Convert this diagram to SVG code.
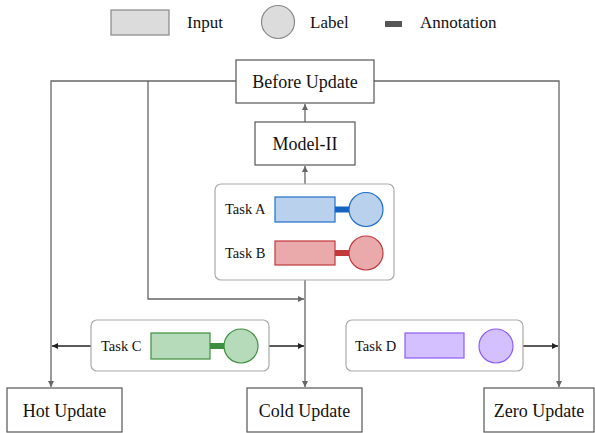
<svg xmlns="http://www.w3.org/2000/svg" width="595" height="433" viewBox="0 0 595 433">
<style>
text{font-family:"Liberation Serif","Times New Roman",serif;fill:#111}
.node rect{fill:#fff;stroke:#555;stroke-width:1.2}
.node text{font-size:18px;text-anchor:middle}
.panel{fill:#fff;stroke:#aaa;stroke-width:1.2}
.task{font-size:14.5px}
.leg{font-size:17px}
.g{fill:none;stroke:#666;stroke-width:1.3}
.k{fill:none;stroke:#222;stroke-width:1.3}
</style>
<defs>
<marker id="ag" markerWidth="8" markerHeight="8" refX="6" refY="3" orient="auto" markerUnits="userSpaceOnUse"><path d="M0,0 L6,3 L0,6 z" fill="#666"/></marker>
<marker id="ak" markerWidth="8" markerHeight="8" refX="6" refY="3" orient="auto" markerUnits="userSpaceOnUse"><path d="M0,0 L6,3 L0,6 z" fill="#222"/></marker>
</defs>
<g id="legend">
<rect x="111" y="10" width="58" height="25" fill="#dcdcdc" stroke="#888" stroke-width="1.2"/>
<text class="leg" x="187" y="28">Input</text>
<circle cx="278" cy="22" r="16.5" fill="#dcdcdc" stroke="#888" stroke-width="1.2"/>
<text class="leg" x="310" y="28">Label</text>
<rect x="385" y="21" width="17" height="6" fill="#555"/>
<text class="leg" x="420" y="28">Annotation</text>
</g>
<g id="connectors">
<path class="g" d="M305,122 V104" marker-end="url(#ag)"/>
<path class="g" d="M305,184 V166" marker-end="url(#ag)"/>
<path class="g" d="M236,81 H51 V387" marker-end="url(#ag)"/>
<path class="g" d="M148,81 V299 H304" marker-end="url(#ag)"/>
<path class="g" d="M374,81 H559 V387" marker-end="url(#ag)"/>
<path class="g" d="M305,280 V387" marker-end="url(#ag)"/>
<path class="k" d="M91,346 H52" marker-end="url(#ak)"/>
<path class="k" d="M269,346 H304" marker-end="url(#ak)"/>
<path class="k" d="M523,346 H558" marker-end="url(#ak)"/>
</g>
<g id="before-update" class="node"><rect x="236" y="60" width="138" height="43"/><text x="305" y="88">Before Update</text></g>
<g id="model-ii" class="node"><rect x="255" y="122" width="100" height="43"/><text x="305" y="150">Model-II</text></g>
<g id="task-ab">
<rect class="panel" x="215" y="184" width="179" height="96" rx="6"/>
<text class="task" x="225" y="214">Task A</text>
<rect x="275" y="197" width="60" height="25" fill="#b9d1ec" stroke="#1e6fc8" stroke-width="1.2"/>
<rect x="335" y="206.5" width="15" height="6" fill="#1565c0"/>
<circle cx="366" cy="209.5" r="17" fill="#b9d1ec" stroke="#1e6fc8" stroke-width="1.2"/>
<text class="task" x="225" y="258">Task B</text>
<rect x="275" y="241" width="60" height="24" fill="#eaa9aa" stroke="#c0393b" stroke-width="1.2"/>
<rect x="335" y="250" width="15" height="6" fill="#c0393b"/>
<circle cx="366" cy="253" r="17" fill="#eaa9aa" stroke="#c0393b" stroke-width="1.2"/>
</g>
<g id="task-c">
<rect class="panel" x="91" y="320" width="178" height="51" rx="6"/>
<text class="task" x="101" y="351">Task C</text>
<rect x="151" y="333" width="59" height="26" fill="#b6dbbb" stroke="#3d8f3d" stroke-width="1.2"/>
<rect x="210" y="343" width="15" height="6" fill="#3d8f3d"/>
<circle cx="241" cy="346" r="17" fill="#b6dbbb" stroke="#3d8f3d" stroke-width="1.2"/>
</g>
<g id="task-d">
<rect class="panel" x="346" y="320" width="177" height="51" rx="6"/>
<text class="task" x="355" y="351">Task D</text>
<rect x="405" y="333" width="59" height="25" fill="#d5c0ff" stroke="#8c5cf5" stroke-width="1.2"/>
<circle cx="496" cy="346" r="17" fill="#d5c0ff" stroke="#8c5cf5" stroke-width="1.2"/>
</g>
<g id="hot-update" class="node"><rect x="7" y="388" width="115" height="44"/><text x="64.5" y="417">Hot Update</text></g>
<g id="cold-update" class="node"><rect x="247" y="388" width="115" height="44"/><text x="304.5" y="417">Cold Update</text></g>
<g id="zero-update" class="node"><rect x="484" y="388" width="110" height="44"/><text x="539" y="417">Zero Update</text></g>
</svg>
